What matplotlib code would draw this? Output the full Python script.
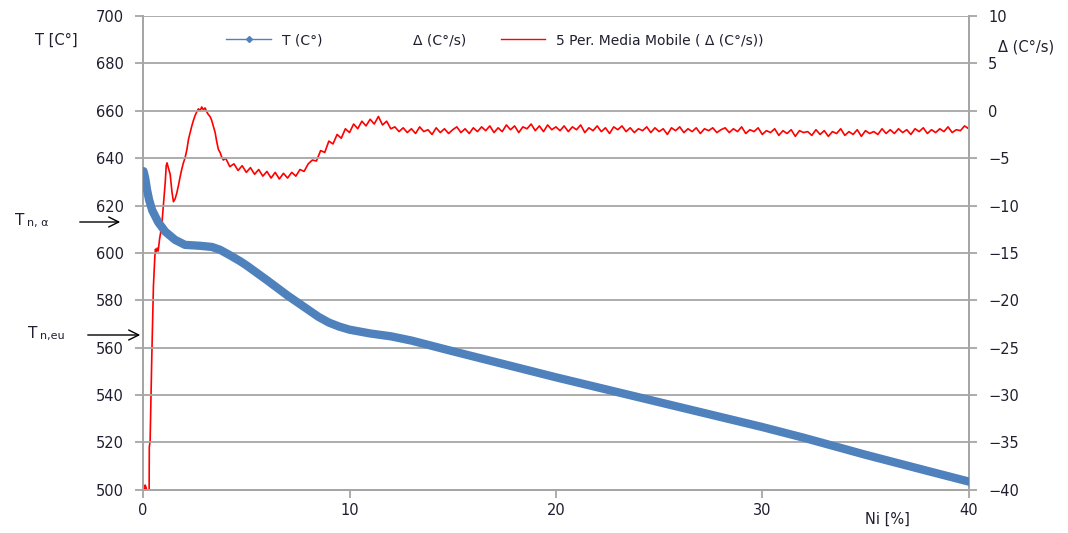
import numpy as np
import matplotlib.pyplot as plt
from matplotlib.lines import Line2D

plt.rcParams['font.family'] = ['DejaVu Sans']

#temperature curve T (C°) vs Ni [%]
t_ni = [0.02, 0.1, 0.19, 0.29, 0.44, 0.73, 1.07, 1.55, 2.03, 2.76, 3.34, 3.73,
        4.21, 4.7, 5.0, 6.0, 7.0, 8.0, 8.5, 9.0, 9.5, 10.0, 11.0, 12.0, 13.0,
        15.0, 20.0, 25.0, 30.0, 32.0, 35.0, 38.0, 40.0]
t_val = [634.5, 631.6, 626.6, 622.4, 618.0, 613.0, 609.0, 605.5, 603.4, 603.0, 602.5, 601.3,
         599.0, 596.5, 594.8, 588.5, 582.0, 576.0, 573.0, 570.6, 568.9, 567.6, 566.0, 564.8, 563.0,
         558.5, 547.5, 537.0, 526.5, 522.0, 514.8, 508.0, 503.5]

#moving average of delta, first part (read point by point)
mm_ni_start = [0.05, 0.1, 0.15, 0.2, 0.28, 0.29, 0.30, 0.34, 0.42, 0.5, 0.57, 0.6, 0.63, 0.68,
               0.73, 0.8, 0.9, 1.0, 1.07, 1.12, 1.16, 1.22, 1.31, 1.4, 1.47, 1.55, 1.63,
               1.72, 1.79, 1.87, 1.95, 2.03, 2.12, 2.2, 2.28, 2.36, 2.44, 2.52, 2.6, 2.68,
               2.76, 2.84, 2.92, 3.0, 3.08, 3.16, 3.24, 3.32, 3.4, 3.49, 3.57, 3.65, 3.73,
               3.81, 3.89]
mm_val_start = [-40.5, -39.5, -39.8, -41.0, -41.0, -41.0, -35.5, -34.8, -26.0, -18.5, -15.3, -14.6, -15.0, -14.5,
                -14.8, -13.5, -12.2, -9.5, -7.6, -5.8, -5.5, -6.0, -6.7, -8.6, -9.6, -9.3, -8.7,
                -7.8, -7.0, -6.2, -5.5, -5.0, -4.1, -3.0, -2.3, -1.6, -1.0, -0.5, -0.1, 0.2,
                0.0, 0.4, 0.1, 0.3, -0.1, -0.4, -0.6, -1.0, -1.6, -2.3, -3.3, -4.1, -4.4,
                -4.9, -5.2]

#moving average, rest of the curve, one value every 0.2 % Ni from 4.0 to 40.0
mm_val_rest = [
    -5.0, -5.9, -5.6, -6.3, -5.8, -6.5, -6.0, -6.7, -6.2, -6.9, -6.4, -7.1, -6.5, -7.2, -6.6, -7.1, -6.5, -6.9, -6.2, -6.4, -5.6,
    -5.2, -5.3, -4.2, -4.4, -3.2, -3.5, -2.5, -2.9, -1.9, -2.3, -1.4, -1.9, -1.1, -1.6, -0.9, -1.4, -0.6, -1.5, -1.1, -1.9,
    -1.7, -2.2, -1.8, -2.3, -1.9, -2.4, -1.7, -2.2, -2.0, -2.5, -1.8, -2.3, -1.9, -2.4, -2.0, -1.7, -2.3, -1.9, -2.4, -1.8,
    -2.2, -1.7, -2.1, -1.6, -2.3, -1.8, -2.2, -1.5, -2.0, -1.6, -2.3, -1.7, -1.9, -1.4, -2.1, -1.6, -2.2, -1.5, -2.0, -1.7,
    -2.1, -1.6, -2.2, -1.7, -2.0, -1.5, -2.3, -1.8, -2.1, -1.6, -2.2, -1.8, -2.4, -1.7, -2.0, -1.6, -2.2, -1.8, -2.3, -1.9,
    -2.1, -1.7, -2.3, -1.8, -2.2, -1.9, -2.5, -1.8, -2.1, -1.7, -2.3, -1.9, -2.2, -1.8, -2.4, -1.9, -2.1, -1.8, -2.3, -2.0,
    -1.8, -2.3, -1.9, -2.2, -1.7, -2.4, -2.0, -2.2, -1.8, -2.5, -2.1, -2.3, -1.9, -2.6, -2.1, -2.4, -2.0, -2.7, -2.1, -2.3,
    -2.2, -2.6, -2.0, -2.5, -2.1, -2.7, -2.2, -2.4, -1.9, -2.6, -2.2, -2.5, -2.0, -2.7, -2.1, -2.4, -2.2, -2.5, -1.9, -2.4,
    -2.0, -2.4, -1.9, -2.3, -2.0, -2.5, -1.9, -2.2, -1.8, -2.4, -2.0, -2.3, -1.9, -2.2, -1.7, -2.3, -2.0, -2.1, -1.6, -1.9]
mm_ni_rest = np.linspace(4.0, 40.0, len(mm_val_rest))

mm_ni = np.concatenate([mm_ni_start, mm_ni_rest])
mm_val = np.concatenate([mm_val_start, mm_val_rest])

left_ticks = [500, 520, 540, 560, 580, 600, 620, 640, 660, 680, 700]
right_ticks = [-40, -35, -30, -25, -20, -15, -10, -5, 0, 5, 10]
x_ticks = [0, 10, 20, 30, 40]

blue = '#4f81bd'
grid_c = '#a6a6a6'
txt_c = '#1f1f2f'

fig = plt.figure(figsize=(10.68, 5.33), dpi=100)
ax = fig.add_axes([0.134, 0.081, 0.773, 0.889])
ax2 = ax.twinx()

ax.plot(t_ni, t_val, color=blue, linewidth=6, solid_capstyle='round', solid_joinstyle='round', zorder=3)
ax2.plot(mm_ni, mm_val, color='red', linewidth=1.2, zorder=2)

ax.set_xlim(0, 40)
ax.set_ylim(500, 700)
ax2.set_ylim(-40, 10)
ax.set_xticks(x_ticks)
ax.set_yticks(left_ticks)
ax2.set_yticks(right_ticks)

ax.yaxis.grid(True, color=grid_c, linewidth=1.3)
ax.set_axisbelow(True)

for a in (ax, ax2):
    a.spines['top'].set_visible(False)
    for s in ('left', 'right', 'bottom'):
        a.spines[s].set_color(grid_c)
        a.spines[s].set_linewidth(1.3)
    a.tick_params(colors=grid_c, labelcolor=txt_c, labelsize=10.5, length=6, width=1.3)
ax.tick_params(axis='y', pad=8)
ax2.tick_params(axis='y', pad=8)
ax.set_zorder(ax2.get_zorder() + 1)
ax.patch.set_visible(False)

#axis titles
fig.text(35/1068, 1 - 40/533, 'T [C°]', fontsize=10.5, color=txt_c, va='center', ha='left')
fig.text(998/1068, 1 - 47/533, 'Δ (C°/s)', fontsize=10.5, color=txt_c, va='center', ha='left')
fig.text(865/1068, 1 - 519/533, 'Ni [%]', fontsize=10.5, color=txt_c, va='center', ha='left')

#legend
handles = [Line2D([], [], color=blue, linewidth=1, marker='D', markersize=3),
           Line2D([], [], color='none'),
           Line2D([], [], color='red', linewidth=1)]
labels = ['T (C°)', 'Δ (C°/s)', '5 Per. Media Mobile ( Δ (C°/s))']
fig.legend(handles, labels, loc='center', bbox_to_anchor=(495/1068, 1 - 40/533), ncol=3,
           frameon=False, fontsize=10, handlelength=3.2, columnspacing=2.5, labelcolor=txt_c)

#arrows with Tn labels
fig.text(15/1068, 1 - 221/533, 'T', fontsize=11, color=txt_c, va='center')
fig.text(27/1068, 1 - 223/533, 'n, α', fontsize=8, color=txt_c, va='center')
ax.annotate('', xy=(123/1068, 1 - 222/533), xytext=(77/1068, 1 - 222/533),
            xycoords='figure fraction', textcoords='figure fraction',
            arrowprops=dict(arrowstyle='->', color='black', lw=1, mutation_scale=18))
fig.text(28/1068, 1 - 334/533, 'T', fontsize=11, color=txt_c, va='center')
fig.text(40/1068, 1 - 336/533, 'n,eu', fontsize=8, color=txt_c, va='center')
ax.annotate('', xy=(143/1068, 1 - 335/533), xytext=(85/1068, 1 - 335/533),
            xycoords='figure fraction', textcoords='figure fraction',
            arrowprops=dict(arrowstyle='->', color='black', lw=1, mutation_scale=18))

plt.savefig('out.png', dpi=100)
